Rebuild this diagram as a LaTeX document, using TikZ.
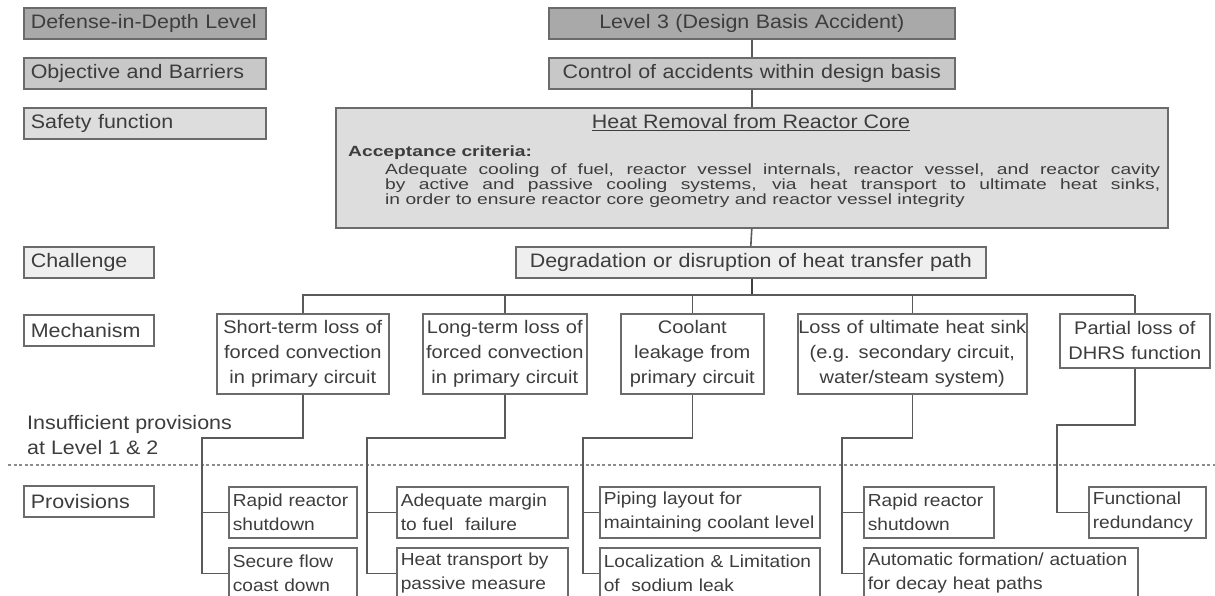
\documentclass[tikz,border=0pt]{standalone}
\usepackage{fontspec}
\setmainfont{Liberation Sans}[FakeStretch=1.1]
\newfontfamily\bodyfont{Liberation Sans}[FakeStretch=1.3]
\definecolor{bdr}{HTML}{6B6B6B}
\definecolor{txt}{HTML}{3D3D3D}
\definecolor{lnk}{HTML}{5A5A5A}
\definecolor{fdark}{HTML}{A9A9A9}
\definecolor{fmid}{HTML}{C8C8C8}
\definecolor{flight}{HTML}{DDDDDD}
\definecolor{fpale}{HTML}{EFEFEF}
\tikzset{
  box/.style={draw=bdr, line width=1.6pt, text=txt, inner ysep=0pt, anchor=north west},
  lbl/.style={box, fill=#1, font=\fontsize{19.5}{23}\selectfont, inner xsep=7pt,
    align=left, minimum height=31pt},
  lblwide/.style={lbl=#1, text width=228pt},
  lblnarrow/.style={lbl=#1, text width=116pt},
  topbox/.style={box, fill=#1, font=\fontsize{19.5}{23}\selectfont, inner xsep=0pt,
    align=center, minimum height=31pt},
  mech/.style={box, fill=white, font=\fontsize{18.2}{25}\selectfont, inner xsep=0pt,
    align=center, text width=#1, minimum height=80pt},
  prov/.style={box, fill=white, font=\fontsize{17.4}{24}\selectfont, inner xsep=4pt,
    align=left, text width=#1, minimum height=51pt},
  link/.style={draw=lnk, line width=1.6pt},
  sepline/.style={draw=black!45, line width=1.6pt, dash pattern=on 3pt off 2.5pt},
}
\begin{document}
\begin{tikzpicture}[x=1pt, y=-1pt]
\useasboundingbox (0,0) rectangle (1215,596);
\clip (0,0) rectangle (1215,596);
\fill[white] (0,0) rectangle (1215,596);

% level labels on the left
\node[lblwide=fdark]  (lvl) at (23,7)   {Defense-in-Depth Level};
\node[lblwide=fmid]   (obj) at (23,57)  {Objective and Barriers};
\node[lblwide=flight] (saf) at (23,107) {Safety function};
\node[lblnarrow=fpale] (cha) at (23,246) {Challenge};
\node[lblnarrow=white] (mec) at (23,314) {Mechanism};
\node[lblnarrow=white] (pro) at (23,485) {Provisions};

% main column
\node[topbox=fdark, text width=406pt] (l3) at (548,7) {Level 3 (Design Basis Accident)};
\node[topbox=fmid, text width=406pt] (ctrl) at (548,57) {Control of accidents within design basis};
\node[box, fill=flight, minimum width=832pt, minimum height=120pt, inner sep=0pt] (heat) at (335,107) {};
\node[text=txt, font=\fontsize{19.5}{23}\selectfont, inner sep=0pt] (heatt) at (751,123)
  {\underline{Heat Removal from Reactor Core}};
\node[text=txt, font=\bodyfont\bfseries\fontsize{14.8}{14}\selectfont, inner sep=0pt, anchor=base west]
  (crit) at (348,157) {Acceptance criteria:};
\node[text=txt, inner sep=0pt, anchor=north west, text width=775pt, align=justify,
  font=\bodyfont\fontsize{14.8}{13.5}\selectfont]
  (critt) at (385,164)
  {\lineskiplimit=-20pt
   Adequate cooling of fuel, reactor vessel internals, reactor vessel, and reactor cavity\linebreak
   by active and passive cooling systems, via heat transport to ultimate heat sinks,\linebreak
   in order to ensure reactor core geometry and reactor vessel integrity};
\node[topbox=fpale, text width=470pt] (deg) at (515,246) {Degradation or disruption of heat transfer path};

% mechanisms
\node[mech=172pt] (m1) at (216,313) {Short-term loss of\\forced convection\\in primary circuit};
\node[mech=164pt] (m2) at (422,313) {Long-term loss of\\forced convection\\in primary circuit};
\node[mech=143pt] (m3) at (620,313) {Coolant\\leakage from\\primary circuit};
\node[mech=229pt] (m4) at (797,313) {Loss of ultimate heat sink\\(e.g. secondary circuit,\\water/steam system)};
\node[mech=150pt, minimum height=54pt] (m5) at (1059,313) {Partial loss of\\DHRS function};

% provisions
\node[prov=120pt] (p11) at (228,486) {Rapid reactor\\shutdown};
\node[prov=120pt] (p12) at (228,547) {Secure flow\\coast down};
\node[prov=163pt] (p21) at (396,486) {Adequate margin\\to fuel \ failure};
\node[prov=163pt] (p22) at (396,547) {Heat transport by\\passive measure};
\node[prov=212pt] (p31) at (599,486) {Piping layout for\\maintaining coolant level};
\node[prov=212pt] (p32) at (599,547) {Localization \& Limitation\\of \ sodium leak};
\node[prov=122pt] (p41) at (863,486) {Rapid reactor\\shutdown};
\node[prov=266pt] (p42) at (863,547) {Automatic formation/ actuation\\for decay heat paths};
\node[prov=109pt] (p51) at (1088,486) {Functional\\redundancy};

\node[text=txt, font=\fontsize{19.5}{25}\selectfont, align=left, inner sep=0pt, anchor=north west]
  (insuf) at (27,415) {Insufficient provisions\\at Level 1 \& 2};

% separator between mechanisms and provisions
\draw[sepline] (8,465) -- (1215,465);

% vertical chain
\draw[link] (l3.south) -- (ctrl.north);
\draw[link] (ctrl.south) -- (heat.north -| ctrl.south);
\draw[link] (heat.south -| ctrl.south) -- (deg.north);
\coordinate (b1) at (302,295);
\coordinate (b5) at (1134,295);
\draw[draw=black!75, line width=2.6pt] (deg.south -| 752,0) -- (752,295);
\draw[link] (b1) -- (b5);
\foreach \m in {m1,m2,m3,m4,m5} { \draw[link] (\m.north) -- (\m.north |- b1); }

% links down to provisions
\coordinate (k1) at (202,438);
\coordinate (k2) at (367,438);
\coordinate (k3) at (583,438);
\coordinate (k4) at (842,438);
\coordinate (k5) at (1057,425);
\draw[link] (m1.south) |- (k1) |- (p12.west);
\draw[link] (k1 |- p11.west) -- (p11.west);
\draw[link] (m2.south) |- (k2) |- (p22.west);
\draw[link] (k2 |- p21.west) -- (p21.west);
\draw[link] (m3.south) |- (k3) |- (p32.west);
\draw[link] (k3 |- p31.west) -- (p31.west);
\draw[link] (m4.south) |- (k4) |- (p42.west);
\draw[link] (k4 |- p41.west) -- (p41.west);
\draw[link] (m5.south) |- (k5) |- (p51.west);
\end{tikzpicture}
\end{document}
